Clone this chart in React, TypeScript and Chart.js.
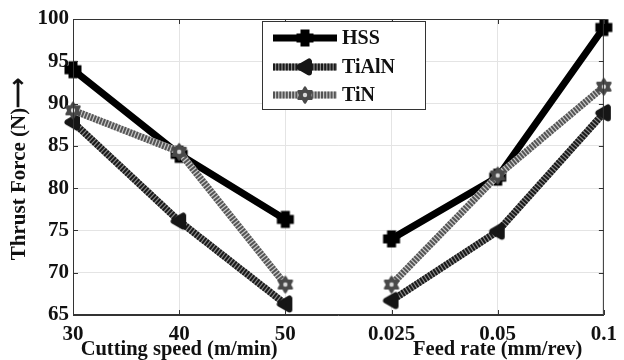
import { useEffect, useRef } from 'react';
import { Chart, registerables } from 'chart.js';
Chart.register(...registerables);

const categories = ['30', '40', '50', '0.025', '0.05', '0.1'];
const groupTitles = ['Cutting speed (m/min)', 'Feed rate (mm/rev)'];
const groupSizes = [3, 3];
const seriesNames = ['HSS', 'TiAlN', 'TiN'];
const hss = [94, 84, 76.3, 74, 81.3, 99];
const tialn = [87.8, 76.1, 66.3, 66.7, 74.9, 88.9];
const tin = [89.2, 84.3, 68.6, 68.6, 81.5, 92];
const yMin = 65;
const yMax = 100;
const yStep = 5;
const yTitle = 'Thrust Force (N)\u27F6';

const FONT = '"Liberation Serif", "Times New Roman", serif';

function makeMarker(kind: string) {
  const c = document.createElement('canvas');
  const s = 24;
  c.width = s;
  c.height = s;
  const g = c.getContext('2d')!;
  g.translate(s / 2, s / 2);
  if (kind === 'plus') {
    g.fillStyle = '#000';
    g.fillRect(-8.5, -4.5, 17, 9);
    g.fillRect(-4.5, -8.5, 9, 17);
  } else if (kind === 'tri') {
    g.fillStyle = '#161616';
    g.strokeStyle = '#161616';
    g.lineWidth = 6;
    g.lineJoin = 'round';
    g.beginPath();
    g.moveTo(-5.5, 0);
    g.lineTo(4, -5.5);
    g.lineTo(4, 5.5);
    g.closePath();
    g.fill();
    g.stroke();
  } else {
    g.strokeStyle = '#4a4a4a';
    g.fillStyle = '#4a4a4a';
    g.lineWidth = 2.5;
    g.lineJoin = 'round';
    const r = 7.5;
    const tri = (off: number) => {
      g.beginPath();
      for (let k = 0; k < 3; k++) {
        const a = off + (k * 2 * Math.PI) / 3;
        const x = r * Math.cos(a);
        const y = r * Math.sin(a);
        if (k === 0) g.moveTo(x, y);
        else g.lineTo(x, y);
      }
      g.closePath();
      g.fill();
      g.stroke();
    };
    tri(-Math.PI / 2);
    tri(Math.PI / 2);
    g.fillStyle = '#d8d8d8';
    g.beginPath();
    g.arc(0, 0, 2.2, 0, Math.PI * 2);
    g.fill();
  }
  return c;
}

export default function App() {
  const ref = useRef<HTMLCanvasElement | null>(null);
  useEffect(() => {
    if (!ref.current) return;
    const gapIndex = groupSizes[0] - 1;
    const markers = [makeMarker('plus'), makeMarker('tri'), makeMarker('star')];
    const mainColors = ['#000000', '#1a1a1a', '#555555'];
    const underColors = ['#000000', '#8a8a8a', '#c8c8c8'];
    const dashes: number[][] = [[], [2, 1.2], [2, 1.2]];
    const values = [hss, tialn, tin];
    const seg = (color: string) => ({
      borderColor: (ctx: any) => (ctx.p0DataIndex === gapIndex ? 'rgba(0,0,0,0)' : color),
    });
    const datasets: any[] = [];
    values.forEach((v, i) => {
      datasets.push({
        label: seriesNames[i],
        data: v,
        borderColor: mainColors[i],
        borderWidth: 7,
        borderDash: dashes[i],
        borderCapStyle: 'butt',
        pointStyle: markers[i],
        pointRadius: 8,
        pointHoverRadius: 8,
        tension: 0,
        fill: false,
        order: 3 - i,
        segment: seg(mainColors[i]),
        isMain: true,
      });
      if (i > 0) {
        datasets.push({
          label: seriesNames[i] + '_u',
          data: v,
          borderColor: underColors[i],
          borderWidth: 7,
          pointRadius: 0,
          tension: 0,
          fill: false,
          order: 3 - i + 0.5,
          segment: seg(underColors[i]),
        });
      }
    });

    const decor = {
      id: 'decor',
      afterDraw(chart: any) {
        const { ctx, chartArea: a, scales } = chart;
        ctx.save();
        ctx.strokeStyle = '#333';
        ctx.lineWidth = 1;
        ctx.strokeRect(a.left + 0.5, a.top + 0.5, a.right - a.left - 1, a.bottom - a.top - 1);
        ctx.beginPath();
        const ys = scales.y;
        for (let v = yMin; v <= yMax; v += yStep) {
          const y = Math.round(ys.getPixelForValue(v)) + 0.5;
          ctx.moveTo(a.left, y);
          ctx.lineTo(a.left + 5, y);
          ctx.moveTo(a.right, y);
          ctx.lineTo(a.right - 5, y);
        }
        categories.forEach((_, i) => {
          const x = Math.round(scales.x.getPixelForValue(i)) + 0.5;
          ctx.moveTo(x, a.bottom);
          ctx.lineTo(x, a.bottom - 5);
          ctx.moveTo(x, a.top);
          ctx.lineTo(x, a.top + 5);
        });
        ctx.stroke();

        ctx.fillStyle = '#111';
        ctx.font = 'bold 20.5px ' + FONT;
        ctx.textAlign = 'center';
        ctx.textBaseline = 'middle';
        let start = 0;
        groupSizes.forEach((n, gi) => {
          const mid = start + (n - 1) / 2;
          const x = scales.x.getPixelForValue(mid);
          ctx.fillText(groupTitles[gi], x, 350);
          start += n;
        });
        ctx.save();
        ctx.translate(20, (a.top + a.bottom) / 2 + 2);
        ctx.rotate(-Math.PI / 2);
        ctx.font = 'bold 21px ' + FONT;
        ctx.fillText(yTitle, 0, 0);
        ctx.restore();

        const bx = 262, by = 21, bw = 163, bh = 88;
        ctx.fillStyle = '#fff';
        ctx.fillRect(bx, by, bw, bh);
        ctx.strokeStyle = '#333';
        ctx.strokeRect(bx + 0.5, by + 0.5, bw, bh);
        const rows = [38, 67, 95];
        const mains = chart.data.datasets.filter((d: any) => d.isMain);
        mains.forEach((d: any, i: number) => {
          const y = rows[i];
          ctx.lineCap = 'butt';
          ctx.lineWidth = 7;
          if (i > 0) {
            ctx.setLineDash([]);
            ctx.strokeStyle = underColors[i];
            ctx.beginPath();
            ctx.moveTo(273, y);
            ctx.lineTo(337, y);
            ctx.stroke();
          }
          ctx.setLineDash(dashes[i]);
          ctx.strokeStyle = mainColors[i];
          ctx.beginPath();
          ctx.moveTo(273, y);
          ctx.lineTo(337, y);
          ctx.stroke();
          ctx.setLineDash([]);
          const m = markers[i];
          ctx.drawImage(m, 305 - m.width / 2, y - m.height / 2);
          ctx.fillStyle = '#111';
          ctx.textAlign = 'left';
          ctx.font = 'bold 20px ' + FONT;
          ctx.fillText(d.label, 342, y + 1);
        });
        ctx.restore();
      },
    };

    const chart = new Chart(ref.current, {
      type: 'line',
      data: { labels: categories, datasets },
      options: {
        responsive: false,
        animation: false,
        devicePixelRatio: 1,
        layout: { padding: { top: 19, right: 14, left: 0, bottom: 0 } },
        plugins: { legend: { display: false }, tooltip: { enabled: false } },
        scales: {
          x: {
            type: 'category',
            offset: false,
            grid: { color: '#e4e4e4', drawTicks: false },
            border: { color: '#333' },
            ticks: {
              color: '#111',
              font: { family: FONT, size: 21, weight: 'bold' },
              padding: 7,
              maxRotation: 0,
              autoSkip: false,
            },
            afterFit: (s: any) => {
              s.height = 45;
            },
          },
          y: {
            min: yMin,
            max: yMax,
            grid: { color: '#e4e4e4', drawTicks: false },
            border: { color: '#333' },
            ticks: {
              stepSize: yStep,
              color: '#111',
              font: { family: FONT, size: 21, weight: 'bold' },
              padding: 4,
            },
            afterFit: (s: any) => {
              s.width = 73;
            },
          },
        },
      },
      plugins: [decor],
    });
    return () => chart.destroy();
  }, []);
  return (
    <div style={{ position: 'absolute', left: 0, top: 0, width: 624, height: 360, background: '#fff' }}>
      <canvas ref={ref} width={624} height={360} style={{ width: 624, height: 360 }} />
    </div>
  );
}
